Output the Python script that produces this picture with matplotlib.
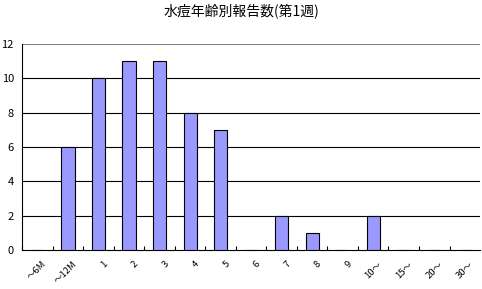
import matplotlib
matplotlib.use("Agg")
import matplotlib.pyplot as plt
import numpy as np

plt.rcParams["font.family"] = ["Noto Sans CJK JP", "DejaVu Sans"]

TITLE = "水痘年齢別報告数(第1週)"
CATEGORIES = ["～6M", "～12M", "1", "2", "3", "4", "5", "6", "7", "8", "9",
              "10～", "15～", "20～", "30～"]
COUNTS = [0, 6, 10, 11, 11, 8, 7, 0, 2, 1, 0, 2, 0, 0, 0]
Y_TICKS = [0, 2, 4, 6, 8, 10, 12]

fig = plt.figure(figsize=(4.82, 2.89), dpi=100)
ax = fig.add_axes([0.046, 0.135, 0.95, 0.713])

x = np.arange(len(CATEGORIES))
ax.bar(x, COUNTS, width=0.43, color="#9999FF", edgecolor="black", linewidth=0.8, zorder=3)

for y in Y_TICKS[1:-1]:
    ax.axhline(y, color="black", linewidth=0.8, zorder=1)
ax.axhline(Y_TICKS[-1], color="#808080", linewidth=0.8, zorder=1)

ax.set_xlim(-0.5, len(CATEGORIES) - 0.5)
ax.set_ylim(0, 12)
ax.set_yticks(Y_TICKS)
ax.tick_params(axis="y", length=0, labelsize=8, pad=6)

ax.set_xticks(x - 0.5, minor=False)
ax.set_xticklabels([])
ax.tick_params(axis="x", direction="in", length=3, width=0.8)
for i, lab in enumerate(CATEGORIES):
    ax.text(i + 0.15, -0.55, lab, rotation=45, ha="right", va="top",
            rotation_mode="anchor", fontsize=6.8)

for side in ("top", "right"):
    ax.spines[side].set_visible(False)
for side in ("left", "bottom"):
    ax.spines[side].set_linewidth(0.8)
    ax.spines[side].set_color("black")

fig.text(0.5, 0.962, TITLE, ha="center", va="center", fontsize=10)

fig.savefig("out.png", dpi=100)
